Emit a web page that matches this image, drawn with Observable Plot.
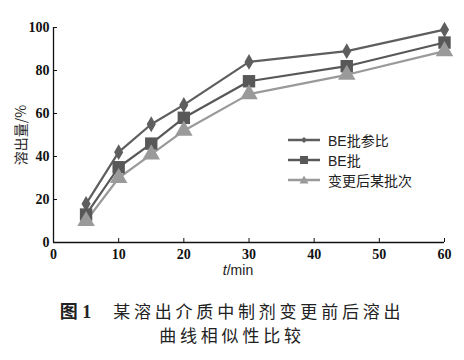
<!DOCTYPE html>
<html><head><meta charset="utf-8">
<script src="https://cdn.jsdelivr.net/npm/d3@7"></script>
<script src="https://cdn.jsdelivr.net/npm/@observablehq/plot@0.6"></script>
<style>
body{margin:0;background:#fff;}
#wrap{position:relative;width:464px;height:360px;overflow:hidden;font-family:"Liberation Serif",serif;}
.legend{position:absolute;left:288px;top:130px;font-family:"Liberation Sans","Noto Sans CJK SC",sans-serif;font-size:14px;color:#222;}
.legend .row{display:flex;align-items:center;height:20px;}
.legend svg{margin-right:8px;}
.cap{position:absolute;left:0;width:464px;text-align:center;font-family:"Noto Sans CJK SC",sans-serif;font-size:17px;letter-spacing:3.8px;color:#222;white-space:nowrap;}
</style></head>
<body><div id="wrap"></div>
<script>
const times = [5, 10, 15, 20, 30, 45, 60];
const seriesNames = ["BE批参比", "BE批", "变更后某批次"];
const refValues = [18, 42, 55, 64, 84, 89, 99];
const beValues = [13, 35, 46, 58, 75, 82, 93];
const changedValues = [10, 30, 41, 52, 69, 78, 89];
const xTicks = [0, 10, 20, 30, 40, 50, 60];
const yTicks = [0, 20, 40, 60, 80, 100];
const colors = ["#5e5e5e", "#585858", "#9a9a9a"];
const symbols = ["diamond", "square", "triangle"];
const radii = [4.8, 7, 6.5];

const allSeries = [refValues, beValues, changedValues];
const data = allSeries.flatMap((vals, s) => vals.map((v, i) => ({t: times[i], v, s: seriesNames[s]})));

const chart = Plot.plot({
  width: 464, height: 285,
  marginLeft: 53, marginRight: 20, marginTop: 27, marginBottom: 43,
  x: {domain: [0, 60]},
  y: {domain: [0, 100]},
  style: {fontFamily: "Liberation Serif", background: "#fff"},
  marks: [
    Plot.axisX({ticks: xTicks, tickSize: -4, tickPadding: 11, fontSize: 14, fontWeight: "bold", label: null, stroke: "#111", color: "#111"}),
    Plot.axisY({ticks: yTicks, tickSize: -4, tickPadding: 8, fontSize: 14, fontWeight: "bold", label: null, stroke: "#111", color: "#111"}),
    Plot.ruleY([0], {stroke: "#111", strokeWidth: 1.3}),
    Plot.ruleX([0], {stroke: "#111", strokeWidth: 1.3}),
    ...seriesNames.map((name, s) => Plot.line(data.filter(d => d.s === name), {x: "t", y: "v", stroke: colors[s], strokeWidth: 2.2})),
    ...seriesNames.map((name, s) => Plot.dot(data.filter(d => d.s === name), {x: "t", y: "v", fill: colors[s], symbol: symbols[s], r: radii[s]}))
  ]
});
const wrap = document.getElementById("wrap");
chart.style.position = "absolute"; chart.style.left = "0"; chart.style.top = "0";
wrap.appendChild(chart);

// axis labels
const svg = d3.select(chart);
svg.append("text").attr("transform", "translate(22,135) rotate(-90)").attr("text-anchor", "middle")
  .attr("dominant-baseline", "middle").style("font-family", "Noto Sans CJK SC").style("font-size", "14px").attr("fill", "#222")
  .text("溶出量/%");
const xl = svg.append("text").attr("x", 238).attr("y", 275).attr("text-anchor", "middle")
  .style("font-family", "Liberation Sans").style("font-size", "14px").attr("fill", "#222");
xl.append("tspan").style("font-style", "italic").text("t");
xl.append("tspan").text("/min");

// legend
const leg = document.createElement("div"); leg.className = "legend";
seriesNames.forEach((name, s) => {
  const row = document.createElement("div"); row.className = "row";
  let mk;
  if (s === 0) mk = '<path d="M16,3 L19,6 L16,9 L13,6Z" fill="'+colors[s]+'"/>';
  else if (s === 1) mk = '<rect x="12" y="2" width="8" height="8" fill="'+colors[s]+'"/>';
  else mk = '<path d="M16,1.5 L20.5,9.5 L11.5,9.5Z" fill="'+colors[s]+'"/>';
  row.innerHTML = '<svg width="32" height="12"><line x1="0" x2="32" y1="6" y2="6" stroke="'+colors[s]+'" stroke-width="2.5"/>'+mk+'</svg><span>'+name+'</span>';
  leg.appendChild(row);
});
wrap.appendChild(leg);

const c1 = document.createElement("div"); c1.className = "cap"; c1.style.top = "297px";
c1.innerHTML = '<b style="font-family:\'Liberation Serif\',\'Noto Sans CJK SC\';font-size:18px;letter-spacing:0">图 1</b><span style="display:inline-block;width:22px"></span>某溶出介质中制剂变更前后溶出';
wrap.appendChild(c1);
const c2 = document.createElement("div"); c2.className = "cap"; c2.style.top = "322px";
c2.textContent = "曲线相似性比较";
wrap.appendChild(c2);
</script></body></html>
